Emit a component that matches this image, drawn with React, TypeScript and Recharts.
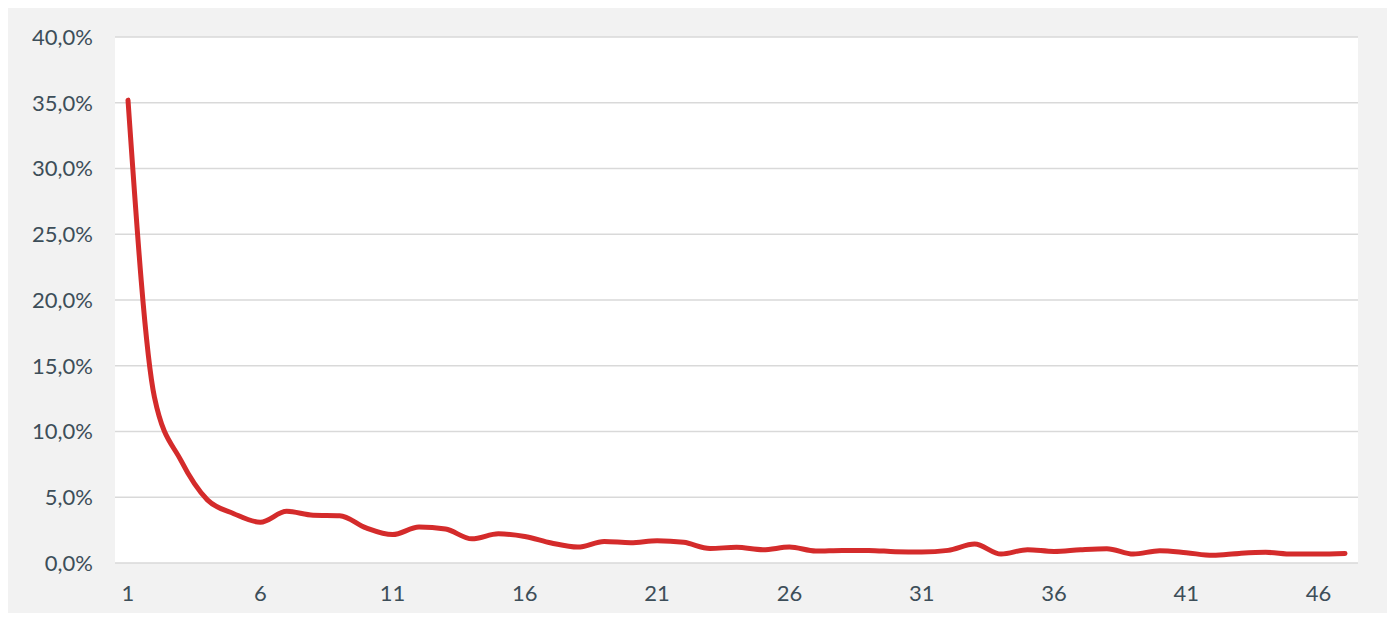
import React from 'react';
import { LineChart, Line, XAxis, YAxis, CartesianGrid } from 'recharts';

const categories = [
  '1', '2', '3', '4', '5', '6', '7', '8', '9', '10',
  '11', '12', '13', '14', '15', '16', '17', '18', '19', '20',
  '21', '22', '23', '24', '25', '26', '27', '28', '29', '30',
  '31', '32', '33', '34', '35', '36', '37', '38', '39', '40',
  '41', '42', '43', '44', '45', '46', '47',
];

const shares = [
  35.2, 12.6, 7.8, 4.8, 3.75, 3.1, 3.93, 3.63, 3.6, 2.67,
  2.16, 2.73, 2.58, 1.84, 2.22, 2.02, 1.52, 1.21, 1.64, 1.54,
  1.69, 1.57, 1.11, 1.19, 1.01, 1.21, 0.91, 0.96, 0.96, 0.86,
  0.83, 0.96, 1.44, 0.68, 1.01, 0.88, 1.01, 1.09, 0.68, 0.93,
  0.78, 0.58, 0.73, 0.81, 0.68, 0.68, 0.73,
];

const yTicks = [0, 5, 10, 15, 20, 25, 30, 35, 40];

const textColor = '#3d4e59';

const formatPct = (v: number) => `${v.toFixed(1).replace('.', ',')}%`;

const App: React.FC = () => {
  const data = categories.map((c, i) => ({ name: c, value: shares[i] }));

  return (
    <div style={{ width: 1381, height: 606, margin: '-1px 0 0 -1px', background: '#f2f2f2' }}>
      <LineChart
        width={1381}
        height={606}
        data={data}
        margin={{ top: 30, right: 30, bottom: 20, left: 0 }}
        style={{ fontFamily: 'Lato, sans-serif' }}
      >
        <CartesianGrid vertical={false} fill="#ffffff" stroke="#d9d9d9" strokeWidth={1.5} />
        <XAxis
          dataKey="name"
          interval={4}
          padding={{ left: 13, right: 13 }}
          axisLine={false}
          tickLine={false}
          tickSize={0}
          tickMargin={22}
          height={30}
          tick={{ fill: textColor, fontSize: 22 }}
        />
        <YAxis
          domain={[0, 40]}
          ticks={yTicks}
          width={108}
          axisLine={false}
          tickLine={false}
          tickSize={0}
          tickMargin={22}
          tickFormatter={formatPct}
          tick={{ fill: textColor, fontSize: 22 }}
        />
        <Line
          type="monotone"
          dataKey="value"
          stroke="#d42b2b"
          strokeWidth={5}
          strokeLinecap="round"
          dot={false}
          isAnimationActive={false}
        />
      </LineChart>
    </div>
  );
};

export default App;
